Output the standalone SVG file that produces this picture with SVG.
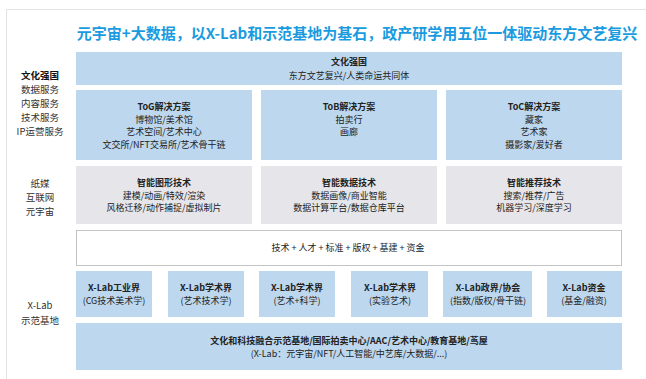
<svg xmlns="http://www.w3.org/2000/svg" width="646" height="379" viewBox="0 0 646 379">
<style>
text{font-family:"Microsoft YaHei","Noto Sans CJK SC","Noto Sans",sans-serif;text-anchor:middle;fill:#222}
.t{font-size:9px}
.b{font-size:9px;font-weight:bold}
.l{font-size:9.5px;fill:#333}
.lb{font-size:9.5px;font-weight:bold;fill:#111}
.blue{fill:#bdd7ee}
.gray{fill:#e6e6ea}
.title{font-size:15px;font-weight:bold;fill:#1a9be0}
</style>
<rect x="0" y="0" width="646" height="379" fill="#fff"/>
<path d="M6.5 379V9.5H646" fill="none" stroke="#e2e2e2" stroke-width="1"/>
<text class="title" x="357" y="39">元宇宙+大数据，以X-Lab和示范基地为基石，政产研学用五位一体驱动东方文艺复兴</text>

<g id="left-labels">
<text class="lb" x="40" y="79">文化强国</text>
<text class="l" x="40" y="93">数据服务</text>
<text class="l" x="40" y="107">内容服务</text>
<text class="l" x="40" y="121">技术服务</text>
<text class="l" x="40" y="135">IP运营服务</text>
<text class="l" x="40" y="187">纸媒</text>
<text class="l" x="40" y="201">互联网</text>
<text class="l" x="40" y="215">元宇宙</text>
<text class="l" x="40" y="309">X-Lab</text>
<text class="l" x="40" y="324">示范基地</text>
</g>

<g id="top">
<rect class="blue" x="76" y="52" width="546" height="33"/>
<text class="b" x="349" y="65">文化强国</text>
<text class="t" x="349" y="79">东方文艺复兴/人类命运共同体</text>
</g>

<g id="tog">
<rect class="blue" x="76" y="90" width="176" height="70"/>
<text class="b" x="164" y="110">ToG解决方案</text>
<text class="t" x="164" y="122.5">博物馆/美术馆</text>
<text class="t" x="164" y="135">艺术空间/艺术中心</text>
<text class="t" x="164" y="147.5">文交所/NFT交易所/艺术骨干链</text>
</g>
<g id="tob">
<rect class="blue" x="261" y="90" width="176" height="70"/>
<text class="b" x="349" y="110">ToB解决方案</text>
<text class="t" x="349" y="122.5">拍卖行</text>
<text class="t" x="349" y="135">画廊</text>
</g>
<g id="toc">
<rect class="blue" x="446" y="90" width="176" height="70"/>
<text class="b" x="534" y="110">ToC解决方案</text>
<text class="t" x="534" y="122.5">藏家</text>
<text class="t" x="534" y="135">艺术家</text>
<text class="t" x="534" y="147.5">摄影家/爱好者</text>
</g>

<g id="tech-graphics">
<rect class="gray" x="76" y="166" width="176" height="58"/>
<text class="b" x="164" y="186">智能图形技术</text>
<text class="t" x="164" y="198.5">建模/动画/特效/渲染</text>
<text class="t" x="164" y="211">风格迁移/动作捕捉/虚拟制片</text>
</g>
<g id="tech-data">
<rect class="gray" x="261" y="166" width="176" height="58"/>
<text class="b" x="349" y="186">智能数据技术</text>
<text class="t" x="349" y="198.5">数据画像/商业智能</text>
<text class="t" x="349" y="211">数据计算平台/数据仓库平台</text>
</g>
<g id="tech-rec">
<rect class="gray" x="446" y="166" width="176" height="58"/>
<text class="b" x="534" y="186">智能推荐技术</text>
<text class="t" x="534" y="198.5">搜索/推荐/广告</text>
<text class="t" x="534" y="211">机器学习/深度学习</text>
</g>

<g id="resources">
<rect x="76.5" y="230.5" width="545" height="35" fill="#fff" stroke="#888" stroke-width="1" stroke-dasharray="1 1"/>
<text class="t" x="348" y="251">技术 + 人才 + 标准 + 版权 + 基建 + 资金</text>
</g>

<g id="xlab1">
<rect class="blue" x="76" y="271" width="76" height="46"/>
<text class="b" x="114" y="291">X-Lab工业界</text>
<text class="t" x="114" y="304">(CG技术美术学)</text>
</g>
<g id="xlab2">
<rect class="blue" x="168" y="271" width="76" height="46"/>
<text class="b" x="206" y="291">X-Lab学术界</text>
<text class="t" x="206" y="304">(艺术技术学)</text>
</g>
<g id="xlab3">
<rect class="blue" x="259" y="271" width="76" height="46"/>
<text class="b" x="297" y="291">X-Lab学术界</text>
<text class="t" x="297" y="304">(艺术+科学)</text>
</g>
<g id="xlab4">
<rect class="blue" x="351" y="271" width="77" height="46"/>
<text class="b" x="390" y="291">X-Lab学术界</text>
<text class="t" x="390" y="304">(实验艺术)</text>
</g>
<g id="xlab5">
<rect class="blue" x="443" y="271" width="89" height="46"/>
<text class="b" x="488" y="291">X-Lab政界/协会</text>
<text class="t" x="488" y="304">(指数/版权/骨干链)</text>
</g>
<g id="xlab6">
<rect class="blue" x="547" y="271" width="75" height="46"/>
<text class="b" x="584" y="291">X-Lab资金</text>
<text class="t" x="584" y="304">(基金/融资)</text>
</g>

<g id="base">
<rect class="blue" x="76" y="323" width="546" height="47"/>
<text class="b" x="349" y="344">文化和科技融合示范基地/国际拍卖中心/AAC/艺术中心/教育基地/茑屋</text>
<text class="t" x="349" y="357">(X-Lab：元宇宙/NFT/人工智能/中艺库/大数据/...)</text>
</g>

<g id="connectors"></g>
</svg>
